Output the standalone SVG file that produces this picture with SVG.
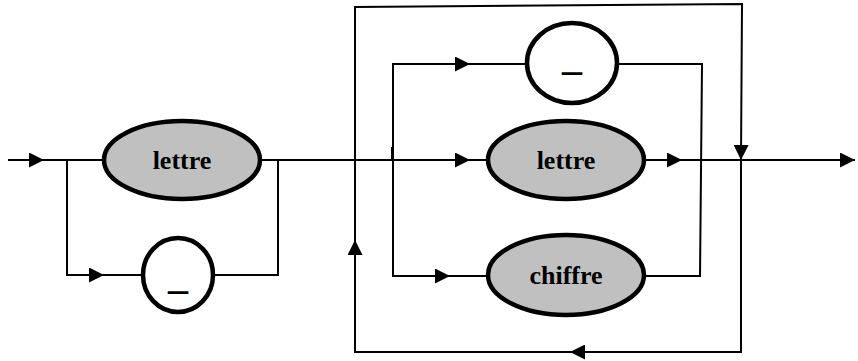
<svg xmlns="http://www.w3.org/2000/svg" width="858" height="361" viewBox="0 0 858 361">
<style>
.l{stroke:#000;stroke-width:2;fill:none}
.n{stroke:#000;stroke-width:4.5;fill:#c0c0c0}
.c{stroke:#000;stroke-width:4.5;fill:#fff}
.t{font-family:"Liberation Serif","Times New Roman",serif;font-weight:bold;font-size:26px;text-anchor:middle}
.u{font-family:"Liberation Serif","Times New Roman",serif;font-weight:bold;font-size:40px;text-anchor:middle}
</style>
<defs>
<marker id="a" viewBox="0 0 10 10" refX="10" refY="5" markerWidth="15" markerHeight="15" markerUnits="userSpaceOnUse" orient="auto"><path d="M0,0L10,5L0,10Z" fill="#000"/></marker>
</defs>
<g id="connectors">
<line class="l" x1="8" y1="160" x2="44" y2="160" marker-end="url(#a)"/>
<line class="l" x1="44" y1="160" x2="104" y2="160"/>
<polyline class="l" points="67,160 67,275 104,275" marker-end="url(#a)"/>
<line class="l" x1="104" y1="275" x2="143" y2="275"/>
<polyline class="l" points="213,275 278,275 278,160"/>
<line class="l" x1="260" y1="160" x2="470" y2="160" marker-end="url(#a)"/>
<line class="l" x1="470" y1="160" x2="488" y2="160"/>
<polyline class="l" points="393,277 393,64 470,64" marker-end="url(#a)"/>
<line class="l" x1="470" y1="64" x2="527" y2="64"/>
<line class="l" x1="392" y1="147" x2="392" y2="160"/>
<polyline class="l" points="393,276 450,276" marker-end="url(#a)"/>
<line class="l" x1="450" y1="276" x2="488" y2="276"/>
<polyline class="l" points="617,64 702,64 700,277"/>
<line class="l" x1="645" y1="276" x2="700" y2="276"/>
<line class="l" x1="645" y1="160" x2="682" y2="160" marker-end="url(#a)"/>
<line class="l" x1="682" y1="160" x2="855" y2="160" marker-end="url(#a)"/>
<polyline class="l" points="355,240 355,7 742,4 741,160" marker-end="url(#a)"/>
<polyline class="l" points="741,160 741,352 570,352" marker-end="url(#a)"/>
<polyline class="l" points="570,352 355,352 355,240" marker-end="url(#a)"/>
</g>
<g id="lettre1"><ellipse class="n" cx="182" cy="160" rx="78" ry="39"/><text class="t" x="182" y="169">lettre</text></g>
<g id="underscore1"><ellipse class="c" cx="178" cy="275" rx="35" ry="37"/><text class="u" x="178" y="288">_</text></g>
<g id="underscore2"><ellipse class="c" cx="572" cy="63" rx="45" ry="40"/><text class="u" x="572" y="69">_</text></g>
<g id="lettre2"><ellipse class="n" cx="566" cy="160" rx="78" ry="39"/><text class="t" x="566" y="169">lettre</text></g>
<g id="chiffre"><ellipse class="n" cx="566" cy="275" rx="78" ry="40"/><text class="t" x="566" y="284">chiffre</text></g>
</svg>
